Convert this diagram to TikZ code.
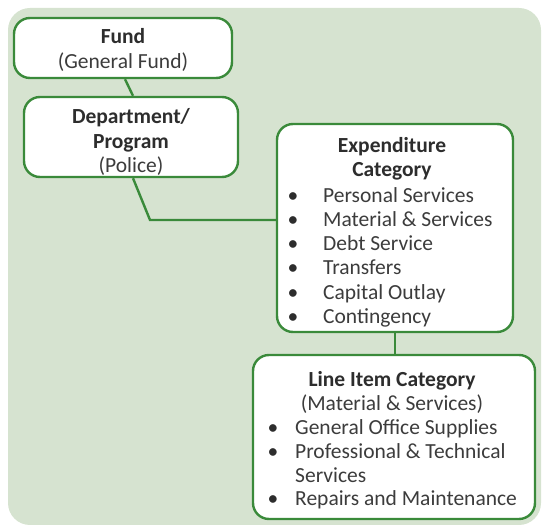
\documentclass[tikz,border=0pt]{standalone}
\usepackage{fontspec}
\setmainfont{Carlito}
\usetikzlibrary{calc}
\definecolor{panel}{RGB}{214,227,208}
\definecolor{edge}{RGB}{58,138,58}
\definecolor{ink}{RGB}{45,45,45}
\definecolor{inksoft}{RGB}{60,60,60}
\tikzset{
  box/.style={draw=edge, line width=2.4pt, fill=white, rounded corners=16pt, inner sep=0pt},
  link/.style={draw=edge, line width=2.4pt},
  txt/.style={font=\fontsize{21.5}{24}\selectfont, inner sep=0pt},
  head/.style={txt, anchor=base, font=\fontsize{21.5}{24}\selectfont\bfseries, text=ink},
  sub/.style={txt, anchor=base, text=inksoft},
  dot/.style={txt, anchor=base, text=ink},
  item/.style={txt, anchor=base west, text=inksoft},
}
\begin{document}
\begin{tikzpicture}[x=1pt, y=-1pt]
\useasboundingbox (0,0) rectangle (542,526);
% panel behind the chart
\fill[panel, rounded corners=22pt] (8,8) rectangle (541,525);

% boxes
\node[box, minimum width=218pt, minimum height=60pt] (fund) at (123,48) {};
\node[box, minimum width=214pt, minimum height=80pt] (dept) at (131,137) {};
\node[box, minimum width=236pt, minimum height=208pt] (exp) at (395,228) {};
\node[box, minimum width=282pt, minimum height=164pt] (line) at (394,437) {};

% connectors
\coordinate (bend) at (150,220);
\draw[link] ($(fund.south)+(2,0)$) -- ($(dept.north)+(2,0)$);
\draw[link] ($(dept.south)+(2,0)$) -- (bend) -- (bend -| exp.west);
\draw[link] (exp.south) -- (exp.south |- line.north);

% Fund
\node[head] (fundT) at (123,44) {Fund};
\node[sub] (fundS) at (123,69) {(General Fund)};

% Department / Program
\node[head] (deptT1) at (131,124) {Department/};
\node[head] (deptT2) at (131,149) {Program};
\node[sub] (deptS) at (131,173) {(Police)};

% Expenditure Category
\node[head] (expT1) at (392,153) {Expenditure};
\node[head] (expT2) at (392,177) {Category};
\foreach \y/\t [count=\i] in {203/Personal Services, 227/Material \& Services, 251/Debt Service, 275/Transfers, 300/Capital Outlay, 324/Contingency}{
  \node[dot] (expB\i) at (293,\y) {•};
  \node[item] (expI\i) at (323,\y) {\t};
}

% Line Item Category
\node[head] (lineT) at (392,387) {Line Item Category};
\node[sub] (lineS) at (392,411) {(Material \& Services)};
\node[dot] (lineB1) at (273,435) {•};
\node[item] (lineI1) at (295,435) {General Office Supplies};
\node[dot] (lineB2) at (273,459) {•};
\node[item] (lineI2) at (295,459) {Professional \& Technical};
\node[item] (lineI2b) at (295,483) {Services};
\node[dot] (lineB3) at (273,506) {•};
\node[item] (lineI3) at (295,506) {Repairs and Maintenance};
\end{tikzpicture}
\end{document}
